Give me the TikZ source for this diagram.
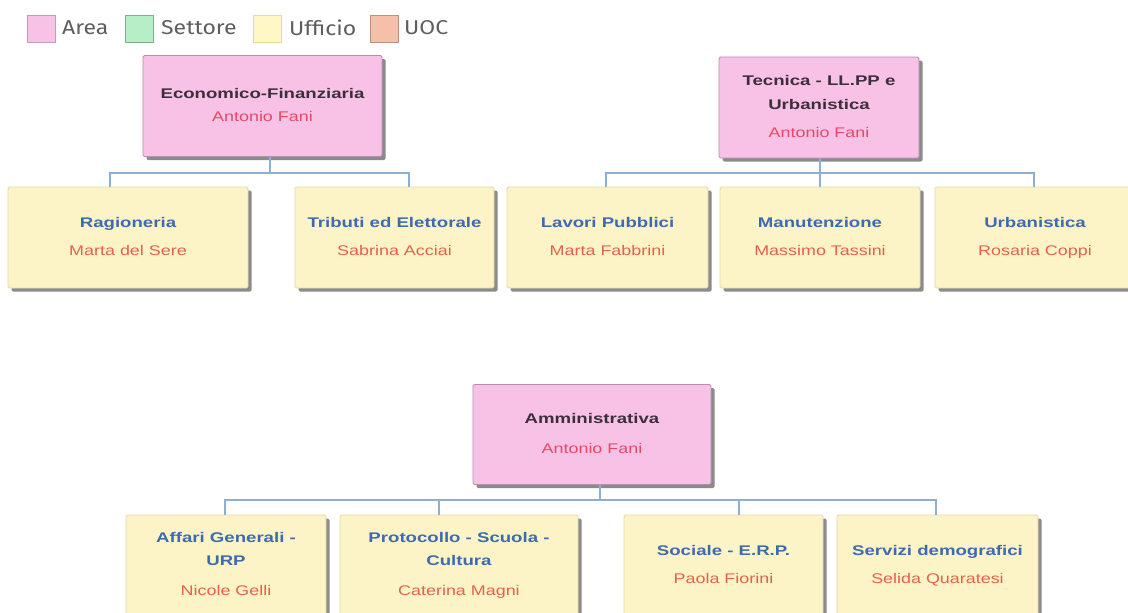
\documentclass[tikz,border=0pt]{standalone}
\usepackage{fontspec}
\usetikzlibrary{shadows}
\newfontfamily\boxfont[FakeStretch=1.28]{Liberation Sans}
\newfontfamily\boxbold[FakeStretch=1.33]{Liberation Sans}
\newfontfamily\legfont[FakeStretch=1.15]{Fira Sans}
\definecolor{bossfill}{HTML}{F8C2E7}
\definecolor{bossline}{HTML}{B98DB0}
\definecolor{ufffill}{HTML}{FCF4C6}
\definecolor{uffline}{HTML}{E4D9A6}
\definecolor{setfill}{HTML}{B6EEC6}
\definecolor{setline}{HTML}{80AE90}
\definecolor{uocfill}{HTML}{F5C0A9}
\definecolor{uocline}{HTML}{C0907E}
\definecolor{legpink}{HTML}{F8C2E7}
\definecolor{legpinkline}{HTML}{C49AB8}
\definecolor{legyel}{HTML}{FFF8C6}
\definecolor{legyelline}{HTML}{E6DC9E}
\definecolor{conncol}{HTML}{8FAED4}
\definecolor{ctitle}{HTML}{3C6BB0}
\definecolor{cname}{HTML}{E8604C}
\definecolor{btitle}{HTML}{3A2F3A}
\definecolor{bname}{HTML}{E84866}
\definecolor{legtext}{HTML}{5E5E5E}
\definecolor{shadowcol}{HTML}{5A5A5A}
\begin{document}
\begin{tikzpicture}[x=1pt,y=-1pt,
  boxbase/.style={rectangle, rounded corners=1.5pt, line width=0.8pt, outer sep=0pt,
    inner sep=0pt, align=center, minimum height=101pt,
    font=\boxfont\fontsize{14}{23}\selectfont,
    drop shadow={shadow xshift=3.5pt, shadow yshift=-3.5pt, fill=shadowcol, opacity=0.7}},
  bossbox/.style={boxbase, draw=bossline, fill=bossfill},
  uffbox/.style={boxbase, draw=uffline, fill=ufffill},
  conn/.style={draw=conncol, line width=1.3pt},
  legsq/.style={rectangle, minimum width=28pt, minimum height=27pt, inner sep=0pt, line width=0.8pt},
  legtxt/.style={anchor=west, inner sep=0pt, text=legtext, font=\legfont\fontsize{20}{24}\selectfont},
]
\useasboundingbox (0,0) rectangle (1128,613);
\clip (0,0) rectangle (1128,613);
\fill[white] (0,0) rectangle (1128,613);

% legend
\node[legsq, draw=legpinkline, fill=legpink] (lq1) at (41,28.5) {};
\node[legtxt] (lt1) at (62,28) {Area};
\node[legsq, draw=setline, fill=setfill] (lq2) at (139.5,28.5) {};
\node[legtxt] (lt2) at (161,28) {Settore};
\node[legsq, draw=legyelline, fill=legyel] (lq3) at (267.5,28.5) {};
\node[legtxt] (lt3) at (289,28) {Ufficio};
\node[legsq, draw=uocline, fill=uocfill] (lq4) at (384,28.5) {};
\node[legtxt] (lt4) at (404,28) {UOC};

\newcommand\bt[1]{\textcolor{btitle}{\boxbold\bfseries #1\vphantom{Ag}}}
\newcommand\bn[1]{\textcolor{bname}{#1\vphantom{Ag}}}
\newcommand\ct[1]{\textcolor{ctitle}{\boxbold\bfseries #1\vphantom{Ag}}}
\newcommand\cn[1]{\textcolor{cname}{#1\vphantom{Ag}}}

% top left
\node[bossbox, minimum width=239pt] (eco) at (262.5,106)
  {\bt{Economico-Finanziaria}\\[0pt]\bn{Antonio Fani}};
\node[uffbox, minimum width=240pt] (rag) at (128,237.5)
  {\ct{Ragioneria}\\[5pt]\cn{Marta del Sere}};
\node[uffbox, minimum width=199pt] (tri) at (394.5,237.5)
  {\ct{Tributi ed Elettorale}\\[5pt]\cn{Sabrina Acciai}};

% top right
\node[bossbox, minimum width=200pt] (tec) at (819,107.5)
  {\bt{Tecnica - LL.PP e}\\[1pt]\bt{Urbanistica}\\[5pt]\bn{Antonio Fani}};
\node[uffbox, minimum width=201pt] (lav) at (607.5,237.5)
  {\ct{Lavori Pubblici}\\[5pt]\cn{Marta Fabbrini}};
\node[uffbox, minimum width=200pt] (man) at (820,237.5)
  {\ct{Manutenzione}\\[5pt]\cn{Massimo Tassini}};
\node[uffbox, minimum width=200pt] (urb) at (1035,237.5)
  {\ct{Urbanistica}\\[5pt]\cn{Rosaria Coppi}};

% bottom
\node[bossbox, minimum width=238pt, minimum height=100pt] (amm) at (592,434.5)
  {\bt{Amministrativa}\\[7pt]\bn{Antonio Fani}};
\node[uffbox, minimum width=200pt] (aff) at (226,565.5)
  {\ct{Affari Generali -}\\[0pt]\ct{URP}\\[7pt]\cn{Nicole Gelli}};
\node[uffbox, minimum width=238pt] (pro) at (459,565.5)
  {\ct{Protocollo - Scuola -}\\[0pt]\ct{Cultura}\\[7pt]\cn{Caterina Magni}};
\node[uffbox, minimum width=199pt] (soc) at (723.5,565.5)
  {\ct{Sociale - E.R.P.}\\[5pt]\cn{Paola Fiorini}};
\node[uffbox, minimum width=201pt] (ser) at (937.5,565.5)
  {\ct{Servizi demografici}\\[5pt]\cn{Selida Quaratesi}};

% connectors
\coordinate (h1) at (270,173);
\coordinate (h2) at (820,173);
\coordinate (h3) at (600,500);
\draw[conn] ([xshift=7.5pt]eco.south) -- (h1);
\draw[conn] ([xshift=-18pt]rag.north) |- (h1);
\draw[conn] ([xshift=14.5pt]tri.north) |- (h1);
\draw[conn] ([xshift=1pt]tec.south) -- (h2);
\draw[conn] ([xshift=-1.5pt]lav.north) |- (h2);
\draw[conn] (man.north) -- (h2);
\draw[conn] ([xshift=-1pt]urb.north) |- (h2);
\draw[conn] ([xshift=8pt]amm.south) -- (h3);
\draw[conn] ([xshift=-1pt]aff.north) |- (h3);
\draw[conn] ([xshift=-20pt]pro.north) |- (h3);
\draw[conn] ([xshift=15.5pt]soc.north) |- (h3);
\draw[conn] ([xshift=-1.5pt]ser.north) |- (h3);
\end{tikzpicture}
\end{document}
